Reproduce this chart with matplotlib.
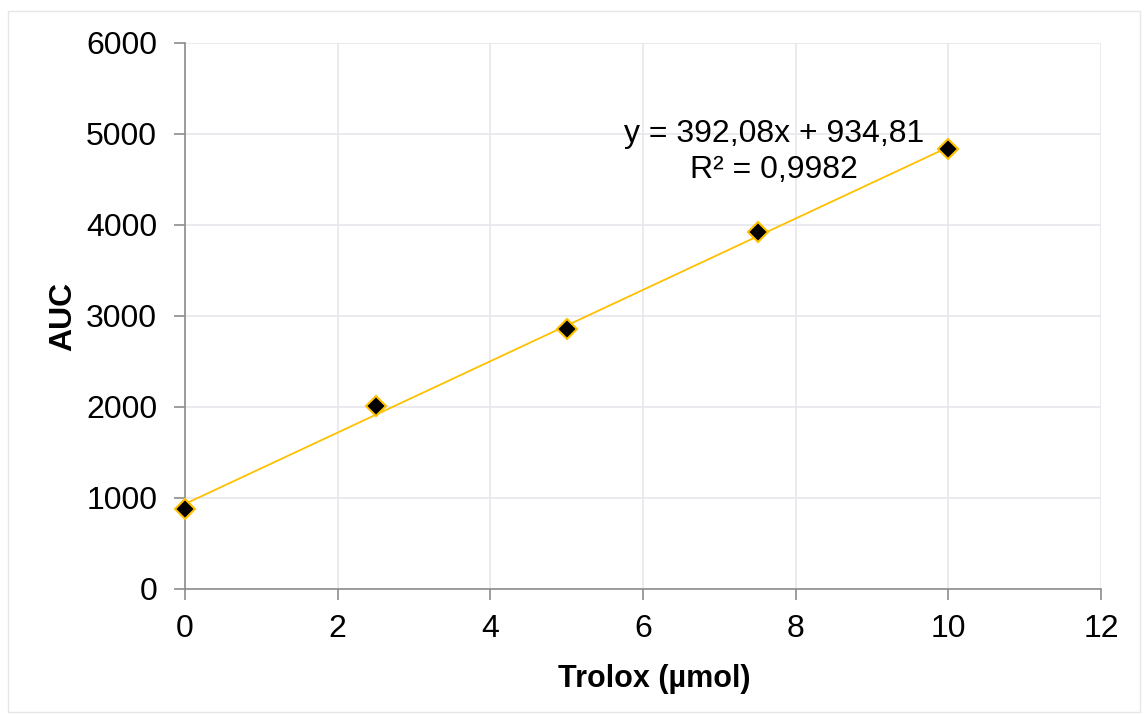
import matplotlib
matplotlib.use("Agg")
import matplotlib.pyplot as plt
import numpy as np
from matplotlib.patches import Rectangle

plt.rcParams['font.family'] = ['Liberation Sans', 'DejaVu Sans']

trolox = [0, 2.5, 5, 7.5, 10]
auc = [880, 2010, 2855, 3920, 4832]
slope = 392.08
intercept = 934.81
equation = "y = 392,08x + 934,81"
r2_text = "R² = 0,9982"
x_ticks = [0, 2, 4, 6, 8, 10, 12]
y_ticks = [0, 1000, 2000, 3000, 4000, 5000, 6000]

fig = plt.figure(figsize=(11.44, 7.15), dpi=100)
fig.patches.append(Rectangle((8/1144, 1-712/715), (1140-8)/1144, (712-11)/715,
                             transform=fig.transFigure, fill=False,
                             edgecolor='#e6e6e6', linewidth=1))
ax = fig.add_axes([185/1144, 1-589/715, (1101-185)/1144, (589-43)/715])

ax.set_xlim(0, 12)
ax.set_ylim(0, 6000)
ax.set_xticks(x_ticks)
ax.set_yticks(y_ticks)
ax.grid(True, color='#e6e6ec', linewidth=1.2)
ax.set_axisbelow(True)
for s in ['top', 'right']:
    ax.spines[s].set_visible(False)
for s in ['left', 'bottom']:
    ax.spines[s].set_color('#8c8c8c')
    ax.spines[s].set_linewidth(1.2)
ax.tick_params(axis='both', colors='#8c8c8c', length=8, width=1.2,
               labelsize=23, labelcolor='black')
ax.tick_params(axis='y', pad=12)
ax.tick_params(axis='x', pad=10)

xs = np.array([trolox[0], trolox[-1]])
ax.plot(xs, slope * xs + intercept, color='#FFC000', linewidth=1.3, zorder=3)
ax.plot(trolox, auc, linestyle='none', marker='D', markersize=10,
        markerfacecolor='black', markeredgecolor='#FFC000', markeredgewidth=1.5,
        zorder=4, clip_on=False)

ax.text(7.72, 4995, equation, ha='center', va='center', fontsize=23)
ax.text(7.72, 4605, r2_text, ha='center', va='center', fontsize=23)

ax.set_xlabel("Trolox (µmol)", fontsize=22, fontweight='bold', labelpad=12)
ax.xaxis.set_label_coords(0.512, -0.165)
ax.xaxis.label.set_va('center')
ax.set_ylabel("AUC", fontsize=23, fontweight='bold', labelpad=6)

fig.savefig("out.png", dpi=100)
